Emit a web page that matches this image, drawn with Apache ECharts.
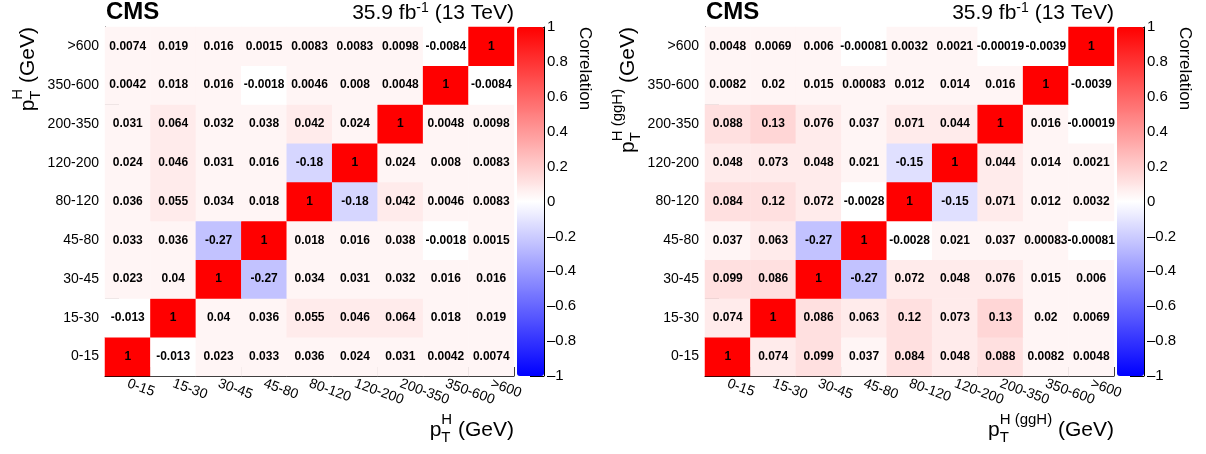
<!DOCTYPE html>
<html><head><meta charset="utf-8">
<script src="https://cdn.jsdelivr.net/npm/echarts@6/dist/echarts.min.js"></script>
<style>html,body{margin:0;padding:0;background:#fff}#c{width:1206px;height:454px}</style>
</head><body><div id="c"></div>
<script>
// ---------- data ----------
const ptBins = ['0-15','15-30','30-45','45-80','80-120','120-200','200-350','350-600','>600'];
const colorbarTicks = [-1,-0.8,-0.6,-0.4,-0.2,0,0.2,0.4,0.6,0.8,1];

// left panel (inclusive pT^H), one array per y-bin, columns follow ptBins
const incl_0_15    = [1, -0.013, 0.023, 0.033, 0.036, 0.024, 0.031, 0.0042, 0.0074];
const incl_15_30   = [-0.013, 1, 0.04, 0.036, 0.055, 0.046, 0.064, 0.018, 0.019];
const incl_30_45   = [0.023, 0.04, 1, -0.27, 0.034, 0.031, 0.032, 0.016, 0.016];
const incl_45_80   = [0.033, 0.036, -0.27, 1, 0.018, 0.016, 0.038, -0.0018, 0.0015];
const incl_80_120  = [0.036, 0.055, 0.034, 0.018, 1, -0.18, 0.042, 0.0046, 0.0083];
const incl_120_200 = [0.024, 0.046, 0.031, 0.016, -0.18, 1, 0.024, 0.008, 0.0083];
const incl_200_350 = [0.031, 0.064, 0.032, 0.038, 0.042, 0.024, 1, 0.0048, 0.0098];
const incl_350_600 = [0.0042, 0.018, 0.016, -0.0018, 0.0046, 0.008, 0.0048, 1, -0.0084];
const incl_600     = [0.0074, 0.019, 0.016, 0.0015, 0.0083, 0.0083, 0.0098, -0.0084, 1];

// right panel (ggH pT^H)
const ggh_0_15    = [1, 0.074, 0.099, 0.037, 0.084, 0.048, 0.088, 0.0082, 0.0048];
const ggh_15_30   = [0.074, 1, 0.086, 0.063, 0.12, 0.073, 0.13, 0.02, 0.0069];
const ggh_30_45   = [0.099, 0.086, 1, -0.27, 0.072, 0.048, 0.076, 0.015, 0.006];
const ggh_45_80   = [0.037, 0.063, -0.27, 1, -0.0028, 0.021, 0.037, 0.00083, -0.00081];
const ggh_80_120  = [0.084, 0.12, 0.072, -0.0028, 1, -0.15, 0.071, 0.012, 0.0032];
const ggh_120_200 = [0.048, 0.073, 0.048, 0.021, -0.15, 1, 0.044, 0.014, 0.0021];
const ggh_200_350 = [0.088, 0.13, 0.076, 0.037, 0.071, 0.044, 1, 0.016, -0.00019];
const ggh_350_600 = [0.0082, 0.02, 0.015, 0.00083, 0.012, 0.014, 0.016, 1, -0.0039];
const ggh_600     = [0.0048, 0.0069, 0.006, -0.00081, 0.0032, 0.0021, -0.00019, -0.0039, 1];

const inclRows = [incl_0_15, incl_15_30, incl_30_45, incl_45_80, incl_80_120, incl_120_200, incl_200_350, incl_350_600, incl_600];
const gghRows  = [ggh_0_15, ggh_15_30, ggh_30_45, ggh_45_80, ggh_80_120, ggh_120_200, ggh_200_350, ggh_350_600, ggh_600];

// ---------- helpers ----------
const FF = '"Liberation Sans", Arial, Helvetica, sans-serif';
function toCells(rows){ const d=[]; rows.forEach((row,r)=>row.forEach((v,c)=>d.push([c,r,v]))); return d; }

// palette: blue - white - red, binned like ROOT contours
function colorAt(t){
  const k = Math.round(255*(1-Math.abs(t)));
  return t < 0 ? 'rgb('+k+','+k+',255)' : 'rgb(255,'+k+','+k+')';
}
const binW = 0.04;
const pieces = [];
for (let k=-25;k<25;k++){
  const lo = +(k*binW).toFixed(4), hi = +((k+1)*binW).toFixed(4);
  const p = {lte: hi, color: colorAt(hi)};
  if (k===-25) p.gte = lo - 0.001; else p.gt = lo;
  if (k===24) p.lte = 1.01;
  pieces.push(p);
}

const mctx = document.createElement('canvas').getContext('2d');
function tw(text,size,weight){ mctx.font=(weight||'normal')+' '+size+'px '+FF; return mctx.measureText(text).width; }
function txt(x,y,text,size,extra){
  return {type:'text', x:x, y:y, silent:true, style:{
    text:text, fontSize:size, fontFamily:FF, fontWeight:(extra&&extra.weight)||'normal', fill:'#000',
    align:'left', textAlign:'left', verticalAlign:'middle', textVerticalAlign:'middle'}};
}
function ptTitle(sup){
  const F=21, S=15;
  const wp=tw('p',F), ws=Math.max(tw(sup,S),tw('T',S)), wr=tw(' (GeV)',F);
  return {W: wp+ws+wr, children:[
    txt(0,-7.5,'p',F), txt(wp,-18,sup,S), txt(wp,0,'T',S), txt(wp+ws,-7.5,' (GeV)',F)
  ]};
}
function lumi(){
  const F=21, S=14;
  const w1=tw('35.9 fb',F), w2=tw('-1',S), w3=tw(' (13 TeV)',F);
  return {W:w1+w2+w3, children:[txt(0,0,'35.9 fb',F), txt(w1,-5.5,'-1',S), txt(w1+w2,0,' (13 TeV)',F)]};
}

const PL = 105, PT = 27, PW = 409, PH = 349, DX = 600, CBX = 517, CBW = 27;

function panelGraphics(off, sup){
  const g = [];
  g.push(txt(off+PL+1, 12.5, 'CMS', 24, {weight:'bold'}));
  const L = lumi();
  g.push({type:'group', x: off+PL+PW-L.W, y: 13.5, children: L.children});
  const t = ptTitle(sup);
  g.push({type:'group', x: off+PL+PW-t.W, y: 438, children: t.children});
  g.push({type:'group', x: off+36, y: PT+t.W, rotation: Math.PI/2, children: ptTitle(sup).children});
  const c = txt(off+585, PT, 'Correlation', 17);
  c.rotation = -Math.PI/2;
  g.push(c);
  return g;
}

function xCat(gi){ return {gridIndex:gi, type:'category', data:ptBins, position:'bottom',
  axisLine:{show:true, lineStyle:{color:'#000', width:1}},
  axisTick:{show:true, inside:true, length:9, lineStyle:{color:'#000'}},
  axisLabel:{interval:0, rotate:-20, margin:7, fontSize:14, color:'#000', fontFamily:FF},
  splitLine:{show:false}}; }
function yCat(gi){ return {gridIndex:gi, type:'category', data:ptBins, position:'left',
  axisLine:{show:true, lineStyle:{color:'#000', width:1}},
  axisTick:{show:true, inside:true, length:14, lineStyle:{color:'#000'}},
  axisLabel:{interval:0, margin:6, fontSize:14, color:'#000', fontFamily:FF},
  splitLine:{show:false}}; }
function cbAxis(gi){ return {gridIndex:gi, type:'value', min:-1, max:1, interval:0.2, position:'right',
  axisLine:{show:true, onZero:false, lineStyle:{color:'#000', width:1}},
  axisTick:{show:true, inside:true, length:14, lineStyle:{color:'#000'}},
  axisLabel:{margin:3, fontSize:15, color:'#000', fontFamily:FF,
    formatter: v => String(Math.round(v*10)/10).replace('-', '\u2013')},
  splitLine:{show:false}}; }
function heat(gi, rows){ return {type:'heatmap', xAxisIndex:gi, yAxisIndex:gi, data:toCells(rows),
  label:{show:true, color:'#000', fontSize:12, fontWeight:'bold', fontFamily:FF,
    formatter: p => String(p.value[2])},
  itemStyle:{borderWidth:0}, emphasis:{disabled:true}, silent:true}; }
function cbVM(left){ return {type:'continuous', show:true, seriesIndex:[], min:-1, max:1,
  left:left, top:PT, itemWidth:CBW, itemHeight:PH, padding:0, calculable:false, hoverLink:false,
  text:null, orient:'vertical', inRange:{color:['#0000ff','#ffffff','#ff0000']}}; }

const option = {
  animation:false, backgroundColor:'#fff',
  grid:[
    {left:PL, top:PT, width:PW, height:PH},
    {left:PL+DX, top:PT, width:PW, height:PH},
    {left:CBX, top:PT, width:CBW, height:PH},
    {left:CBX+DX, top:PT, width:CBW, height:PH}
  ],
  xAxis:[xCat(0), xCat(1), {gridIndex:2, type:'value', show:false, min:0, max:1}, {gridIndex:3, type:'value', show:false, min:0, max:1}],
  yAxis:[yCat(0), yCat(1), cbAxis(2), cbAxis(3)],
  visualMap:[
    {type:'piecewise', show:false, seriesIndex:[0,1], dimension:2, pieces:pieces},
    cbVM(CBX), cbVM(CBX+DX)
  ],
  series:[heat(0, inclRows), heat(1, gghRows)],
  graphic: panelGraphics(0,'H').concat(panelGraphics(DX,'H (ggH)'))
};
const chart = echarts.init(document.getElementById('c'), null, {renderer:'canvas'});
chart.setOption(option);
</script></body></html>
